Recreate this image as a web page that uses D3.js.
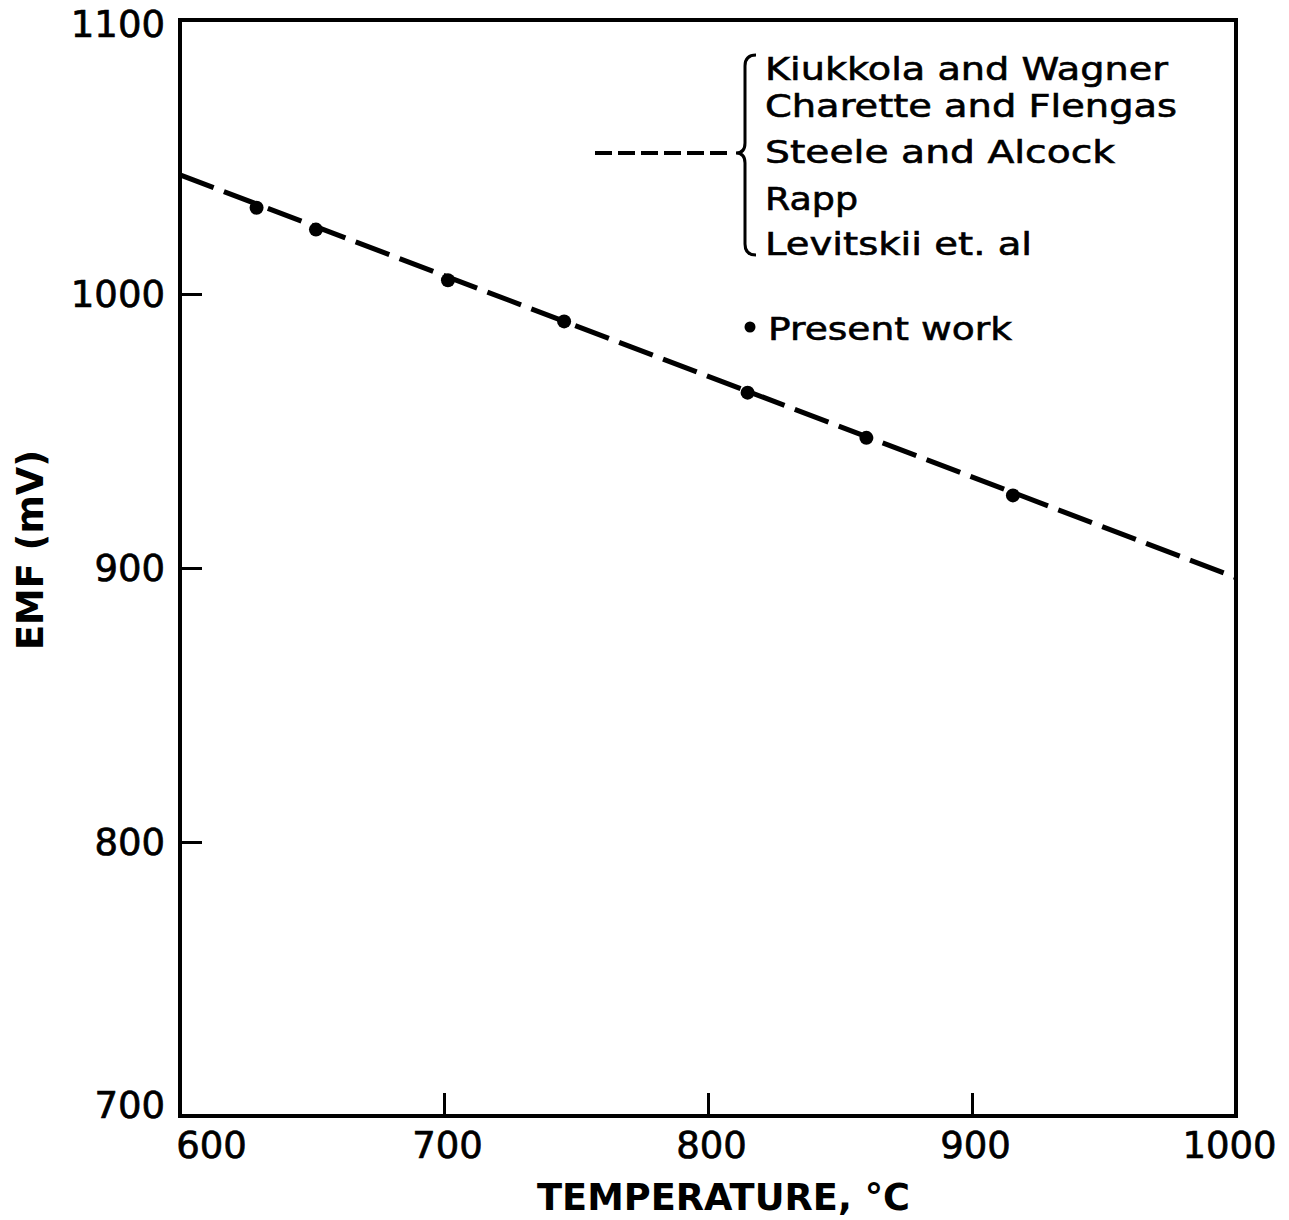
<!DOCTYPE html>
<html>
<head>
<meta charset="utf-8">
<script src="https://cdn.jsdelivr.net/npm/d3@7/dist/d3.min.js"></script>
<style>
  html, body { margin: 0; padding: 0; background: #fff; }
  svg { display: block; }
  text { font-family: "DejaVu Sans", "Liberation Sans", sans-serif; fill: #000; }
</style>
</head>
<body>
<svg id="chart" width="1289" height="1220"></svg>
<script>
// ---- data ----
const xTicks = [600, 700, 800, 900, 1000];
const yTicks = [700, 800, 900, 1000, 1100];
const xDomain = [600, 1000];
const yDomain = [700, 1100];

// dashed reference line (literature: Kiukkola & Wagner, Charette & Flengas, ...)
const refTemp = [600, 1000];
const refEMF = [1043.5, 896.5];

// Present work points
const presentTemp = [629, 651.5, 701.5, 745.5, 815, 860, 915.5];
const presentEMF  = [1031.5, 1023.5, 1005, 990, 964, 947.5, 926.5];

const legendNames = ["Kiukkola and Wagner", "Charette and Flengas", "Steele and Alcock", "Rapp", "Levitskii et. al"];
const presentLabel = "Present work";
const xTitle = "TEMPERATURE, °C";
const yTitle = "EMF (mV)";

// ---- layout ----
const svg = d3.select("#chart");
const L = 180, R = 1236, T = 20, B = 1116;

const x = d3.scaleLinear().domain(xDomain).range([L, R]);
const y = d3.scaleLinear().domain(yDomain).range([B, T]);

// x axis
const gx = svg.append("g")
  .attr("transform", `translate(0,${B})`)
  .call(d3.axisBottom(x).tickValues(xTicks).tickSizeInner(-23).tickSizeOuter(0).tickPadding(16).tickFormat(d3.format("d")));
gx.select(".domain").remove();
gx.selectAll(".tick line").attr("stroke", "#000").attr("stroke-width", 3);
gx.selectAll(".tick text").attr("font-size", 37).attr("font-family", "DejaVu Sans")
  .attr("stroke", "#000").attr("stroke-width", 0.7)
  .attr("x", d => d === 600 ? 31 : (d === 1000 ? -7 : 3));
gx.selectAll(".tick").filter(d => d === 600 || d === 1000).select("line").remove();

// y axis
const gy = svg.append("g")
  .attr("transform", `translate(${L},0)`)
  .call(d3.axisLeft(y).tickValues(yTicks).tickSizeInner(-22).tickSizeOuter(0).tickPadding(15).tickFormat(d3.format("d")));
gy.select(".domain").remove();
gy.selectAll(".tick line").attr("stroke", "#000").attr("stroke-width", 3);
gy.selectAll(".tick text").attr("font-size", 37).attr("font-family", "DejaVu Sans")
  .attr("stroke", "#000").attr("stroke-width", 0.7)
  .attr("y", d => d === 1100 ? 5 : (d === 700 ? -10 : 1));
gy.selectAll(".tick").filter(d => d === 700 || d === 1100).select("line").remove();

// frame
svg.append("rect")
  .attr("x", L).attr("y", T).attr("width", R - L).attr("height", B - T)
  .attr("fill", "none").attr("stroke", "#000").attr("stroke-width", 4);

// axis titles
svg.append("text")
  .attr("x", 537).attr("y", 1210)
  .attr("font-size", 38).attr("font-weight", "bold")
  .attr("textLength", 373).attr("lengthAdjust", "spacingAndGlyphs")
  .text(xTitle);

svg.append("text")
  .attr("transform", "translate(43,550) rotate(-90)")
  .attr("text-anchor", "middle")
  .attr("font-size", 38).attr("font-weight", "bold")
  .attr("textLength", 200).attr("lengthAdjust", "spacingAndGlyphs")
  .text(yTitle);

// reference dashed line
const refData = refTemp.map((t, i) => [t, refEMF[i]]);
svg.append("path")
  .datum(refData)
  .attr("d", d3.line().x(d => x(d[0])).y(d => y(d[1])))
  .attr("fill", "none").attr("stroke", "#000").attr("stroke-width", 5)
  .attr("stroke-dasharray", "36,11");

// present-work points
const pts = presentTemp.map((t, i) => [t, presentEMF[i]]);
svg.append("g").selectAll("circle")
  .data(pts).join("circle")
  .attr("cx", d => x(d[0])).attr("cy", d => y(d[1])).attr("r", 7)
  .attr("fill", "#000");

// legend
const legendBaselines = [80, 117, 163, 210, 255];
const legendWidths = [403, 412, 350, 93, 267];
svg.append("g").selectAll("text")
  .data(legendNames).join("text")
  .attr("x", 765).attr("y", (d, i) => legendBaselines[i])
  .attr("font-size", 32)
  .attr("stroke", "#000").attr("stroke-width", 0.6)
  .attr("textLength", (d, i) => legendWidths[i]).attr("lengthAdjust", "spacingAndGlyphs")
  .text(d => d);

svg.append("line")
  .attr("x1", 595).attr("x2", 732).attr("y1", 153).attr("y2", 153)
  .attr("stroke", "#000").attr("stroke-width", 4).attr("stroke-dasharray", "17,6");

svg.append("path")
  .attr("d", "M756,55 Q745,55 745,66 L745,143 Q745,153 736,153 Q745,153 745,163 L745,244 Q745,255 756,255")
  .attr("fill", "none").attr("stroke", "#000").attr("stroke-width", 3);

svg.append("circle").attr("cx", 750).attr("cy", 327).attr("r", 5.5).attr("fill", "#000");
svg.append("text")
  .attr("x", 768).attr("y", 340)
  .attr("font-size", 32)
  .attr("stroke", "#000").attr("stroke-width", 0.6)
  .attr("textLength", 244).attr("lengthAdjust", "spacingAndGlyphs")
  .text(presentLabel);
</script>
</body>
</html>
